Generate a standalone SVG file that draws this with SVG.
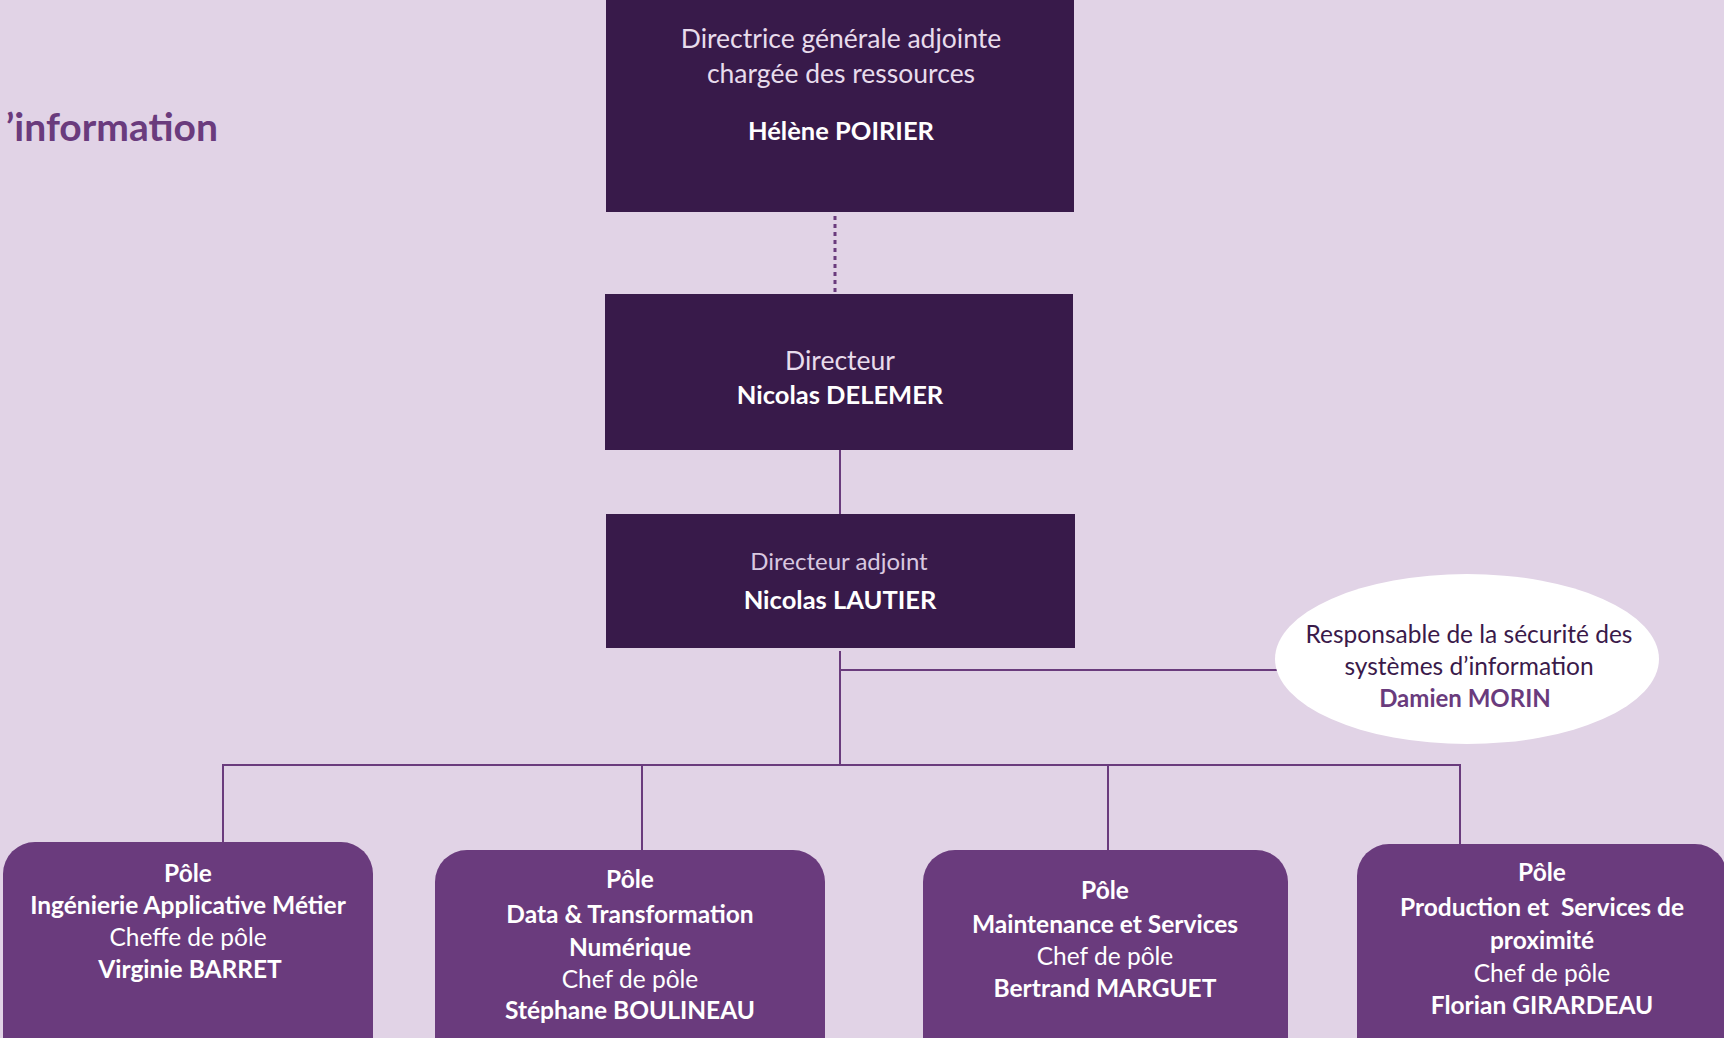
<svg xmlns="http://www.w3.org/2000/svg" width="1724" height="1038" viewBox="0 0 1724 1038">
<style>
  .bg{fill:#e1d3e6}
  .dark{fill:#381a4a}
  .pole{fill:#6a3b7d}
  .ln{stroke:#6a3b7d;stroke-width:2;fill:none}
  .dot{stroke:#6a3b7d;stroke-width:3;stroke-dasharray:4 4;fill:none}
  text{font-family:Lato,"Liberation Sans",sans-serif;text-anchor:middle}
  .lt{fill:#e8dcec;font-size:26.5px}
  .lb{fill:#ffffff;font-size:25.5px;font-weight:bold}
  .pt{fill:#ffffff;font-size:24.5px;font-weight:bold}
  .pr{fill:#ffffff;font-size:24.5px}
  .et{fill:#3a1a4a;font-size:24.5px}
  .eb{fill:#6a3b7d;font-size:24px;font-weight:bold}
  .title{fill:#6a3b7d;font-size:39px;font-weight:bold;text-anchor:end}
</style>
<rect class="bg" x="0" y="0" width="1724" height="1038"/>
<text class="title" x="218" y="141">’information</text>

<g id="connectors">
  <line class="dot" x1="835" y1="216" x2="835" y2="292"/>
  <line class="ln" x1="840" y1="450" x2="840" y2="514"/>
  <line class="ln" x1="840" y1="651" x2="840" y2="765"/>
  <line class="ln" x1="840" y1="670" x2="1277" y2="670"/>
  <polyline class="ln" points="223,842 223,765 1460,765 1460,845"/>
  <line class="ln" x1="642" y1="765" x2="642" y2="851"/>
  <line class="ln" x1="1108" y1="765" x2="1108" y2="851"/>
</g>

<g id="dga">
  <rect class="dark" x="606" y="0" width="468" height="212"/>
  <text class="lt" x="841" y="48">Directrice générale adjointe</text>
  <text class="lt" x="841" y="83">chargée des ressources</text>
  <text class="lb" x="841" y="140">Hélène POIRIER</text>
</g>

<g id="directeur">
  <rect class="dark" x="605" y="294" width="468" height="156"/>
  <text class="lt" x="840" y="370">Directeur</text>
  <text class="lb" x="840" y="404">Nicolas DELEMER</text>
</g>

<g id="directeur-adjoint">
  <rect class="dark" x="606" y="514" width="469" height="134"/>
  <text class="lt" x="839" y="570" style="fill:#d9c8e0;font-size:24px">Directeur adjoint</text>
  <text class="lb" x="840" y="609">Nicolas LAUTIER</text>
</g>

<g id="rssi">
  <ellipse cx="1467" cy="659" rx="192" ry="85" fill="#ffffff"/>
  <text class="et" x="1469" y="643">Responsable de la sécurité des</text>
  <text class="et" x="1469" y="675">systèmes d’information</text>
  <text class="eb" x="1465" y="707">Damien MORIN</text>
</g>

<g id="pole-iam">
  <rect class="pole" x="3" y="842" width="370" height="230" rx="32"/>
  <text class="pt" x="188" y="882">Pôle</text>
  <text class="pt" x="188" y="914">Ingénierie Applicative Métier</text>
  <text class="pr" x="188" y="946">Cheffe de pôle</text>
  <text class="pt" x="190" y="978">Virginie BARRET</text>
</g>

<g id="pole-data">
  <rect class="pole" x="435" y="850" width="390" height="230" rx="32"/>
  <text class="pt" x="630" y="888">Pôle</text>
  <text class="pt" x="630" y="923">Data &amp; Transformation</text>
  <text class="pt" x="630" y="956">Numérique</text>
  <text class="pr" x="630" y="988">Chef de pôle</text>
  <text class="pt" x="630" y="1019">Stéphane BOULINEAU</text>
</g>

<g id="pole-maint">
  <rect class="pole" x="923" y="850" width="365" height="230" rx="32"/>
  <text class="pt" x="1105" y="899">Pôle</text>
  <text class="pt" x="1105" y="933">Maintenance et Services</text>
  <text class="pr" x="1105" y="965">Chef de pôle</text>
  <text class="pt" x="1105" y="997">Bertrand MARGUET</text>
</g>

<g id="pole-prod">
  <rect class="pole" x="1357" y="844" width="370" height="230" rx="32"/>
  <text class="pt" x="1542" y="881">Pôle</text>
  <text class="pt" x="1542" y="916" xml:space="preserve">Production et  Services de</text>
  <text class="pt" x="1542" y="949">proximité</text>
  <text class="pr" x="1542" y="982">Chef de pôle</text>
  <text class="pt" x="1542" y="1014">Florian GIRARDEAU</text>
</g>
</svg>
